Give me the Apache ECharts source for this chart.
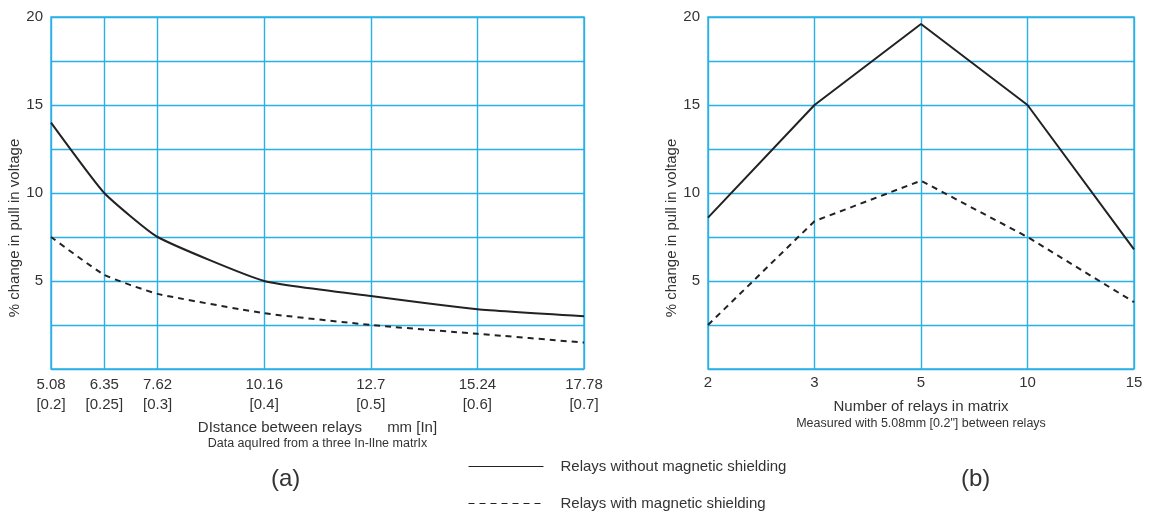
<!DOCTYPE html>
<html>
<head>
<meta charset="utf-8">
<script src="https://cdn.jsdelivr.net/npm/echarts@6/dist/echarts.min.js"></script>
<style>
html,body{margin:0;padding:0;background:#fff;}
#c{width:1150px;height:513px;}
</style>
</head>
<body>
<div id="c"></div>
<script>
// ---- data ----
var distMm = [5.08, 6.35, 7.62, 10.16, 12.7, 15.24, 17.78];
var distIn = ['0.2', '0.25', '0.3', '0.4', '0.5', '0.6', '0.7'];
var distNoShield = [14, 10, 7.5, 5, 4.15, 3.4, 3.0];
var distShield = [7.5, 5.35, 4.27, 3.17, 2.5, 2.0, 1.5];

var relayCounts = ['2', '3', '5', '10', '15'];
var countNoShield = [8.6, 15, 19.6, 15, 6.8];
var countShield = [2.5, 8.4, 10.7, 7.5, 3.8];

var yTicks = [5, 10, 15, 20];

var nameNo = 'Relays without magnetic shielding';
var nameYes = 'Relays with magnetic shielding';

// ---- chart ----
var FONT = '"Liberation Sans", Arial, sans-serif';
var GRIDC = '#29b1e6';
var TXT = '#333';
var LINEC = '#222';

function pairs(xs, ys) { return xs.map(function (x, i) { return [x, ys[i]]; }); }

var splitCfg = { show: true, lineStyle: { color: [GRIDC], width: 1.4, opacity: 1, type: 'solid' } };

function yAxisCfg(idx) {
  return {
    type: 'value', gridIndex: idx, min: 0, max: 20, interval: 2.5,
    axisLine: { show: false }, axisTick: { show: false },
    axisLabel: {
      fontFamily: FONT, fontSize: 15, color: TXT, margin: 8,
      formatter: function (v) { return yTicks.indexOf(v) >= 0 ? String(v) : ''; }
    },
    splitLine: splitCfg,
    name: '% change in pull in voltage', nameLocation: 'middle', nameGap: 28,
    nameTextStyle: { fontFamily: FONT, fontSize: 15, color: TXT, padding: [0, 70, 0, 0] }
  };
}

var chart = echarts.init(document.getElementById('c'));
chart.setOption({
  animation: false,
  backgroundColor: '#fff',
  grid: [
    { left: 51, top: 17, width: 533, height: 352, show: true, borderColor: GRIDC, borderWidth: 1.4 },
    { left: 708, top: 17, width: 426, height: 352, show: true, borderColor: GRIDC, borderWidth: 1.4 }
  ],
  xAxis: [
    {
      type: 'value', gridIndex: 0, min: distMm[0], max: distMm[distMm.length - 1],
      axisLine: { show: false },
      axisTick: { show: false, customValues: distMm },
      axisLabel: {
        customValues: distMm, fontFamily: FONT, fontSize: 15, color: TXT, margin: 6, lineHeight: 20,
        formatter: function (v) {
          var i = distMm.indexOf(v);
          return i < 0 ? '' : v + '\n[' + distIn[i] + ']';
        }
      },
      splitLine: splitCfg,
      name: '{a|DIstance between relays      mm [In]}\n{b|Data aquIred from a three In-lIne matrIx}',
      nameLocation: 'middle', nameGap: 45,
      nameTextStyle: {
        rich: {
          a: { fontFamily: FONT, fontSize: 15, color: TXT, lineHeight: 17, align: 'center' },
          b: { fontFamily: FONT, fontSize: 12.5, color: TXT, lineHeight: 16, align: 'center' }
        }
      }
    },
    {
      type: 'category', gridIndex: 1, data: relayCounts, boundaryGap: false,
      axisLine: { show: false }, axisTick: { show: false },
      axisLabel: { fontFamily: FONT, fontSize: 15, color: TXT, margin: 6 },
      splitLine: splitCfg,
      name: '{a|Number of relays in matrix}\n{b|Measured with 5.08mm [0.2"] between relays}',
      nameLocation: 'middle', nameGap: 29,
      nameTextStyle: {
        rich: {
          a: { fontFamily: FONT, fontSize: 15, color: TXT, lineHeight: 17, align: 'center' },
          b: { fontFamily: FONT, fontSize: 12.5, color: TXT, lineHeight: 17, align: 'center' }
        }
      }
    }
  ],
  yAxis: [yAxisCfg(0), yAxisCfg(1)],
  legend: {
    orient: 'vertical', left: 468, top: 459, height: 54, padding: 0,
    itemWidth: 75, itemHeight: 10, itemGap: 22,
    data: [nameNo, nameYes],
    textStyle: { fontFamily: FONT, fontSize: 15, color: TXT, padding: [0, 0, 0, 12] },
    lineStyle: { width: 1 },
    itemStyle: { opacity: 0 },
    selectedMode: false
  },
  graphic: [
    { type: 'text', left: 271, top: 467, style: { text: '(a)', font: '24px ' + FONT, fill: TXT } },
    { type: 'text', left: 961, top: 467, style: { text: '(b)', font: '24px ' + FONT, fill: TXT } }
  ],
  series: [
    { name: nameNo, type: 'line', xAxisIndex: 0, yAxisIndex: 0, data: pairs(distMm, distNoShield),
      symbol: 'none', smooth: 0.15, lineStyle: { color: LINEC, width: 2 }, itemStyle: { color: LINEC } },
    { name: nameYes, type: 'line', xAxisIndex: 0, yAxisIndex: 0, data: pairs(distMm, distShield),
      symbol: 'none', smooth: 0.15, lineStyle: { color: LINEC, width: 2, type: [6, 5] }, itemStyle: { color: LINEC } },
    { name: nameNo, type: 'line', xAxisIndex: 1, yAxisIndex: 1, data: countNoShield,
      symbol: 'none', lineStyle: { color: LINEC, width: 2 }, itemStyle: { color: LINEC } },
    { name: nameYes, type: 'line', xAxisIndex: 1, yAxisIndex: 1, data: countShield,
      symbol: 'none', lineStyle: { color: LINEC, width: 2, type: [6, 5] }, itemStyle: { color: LINEC } }
  ]
});
</script>
</body>
</html>
